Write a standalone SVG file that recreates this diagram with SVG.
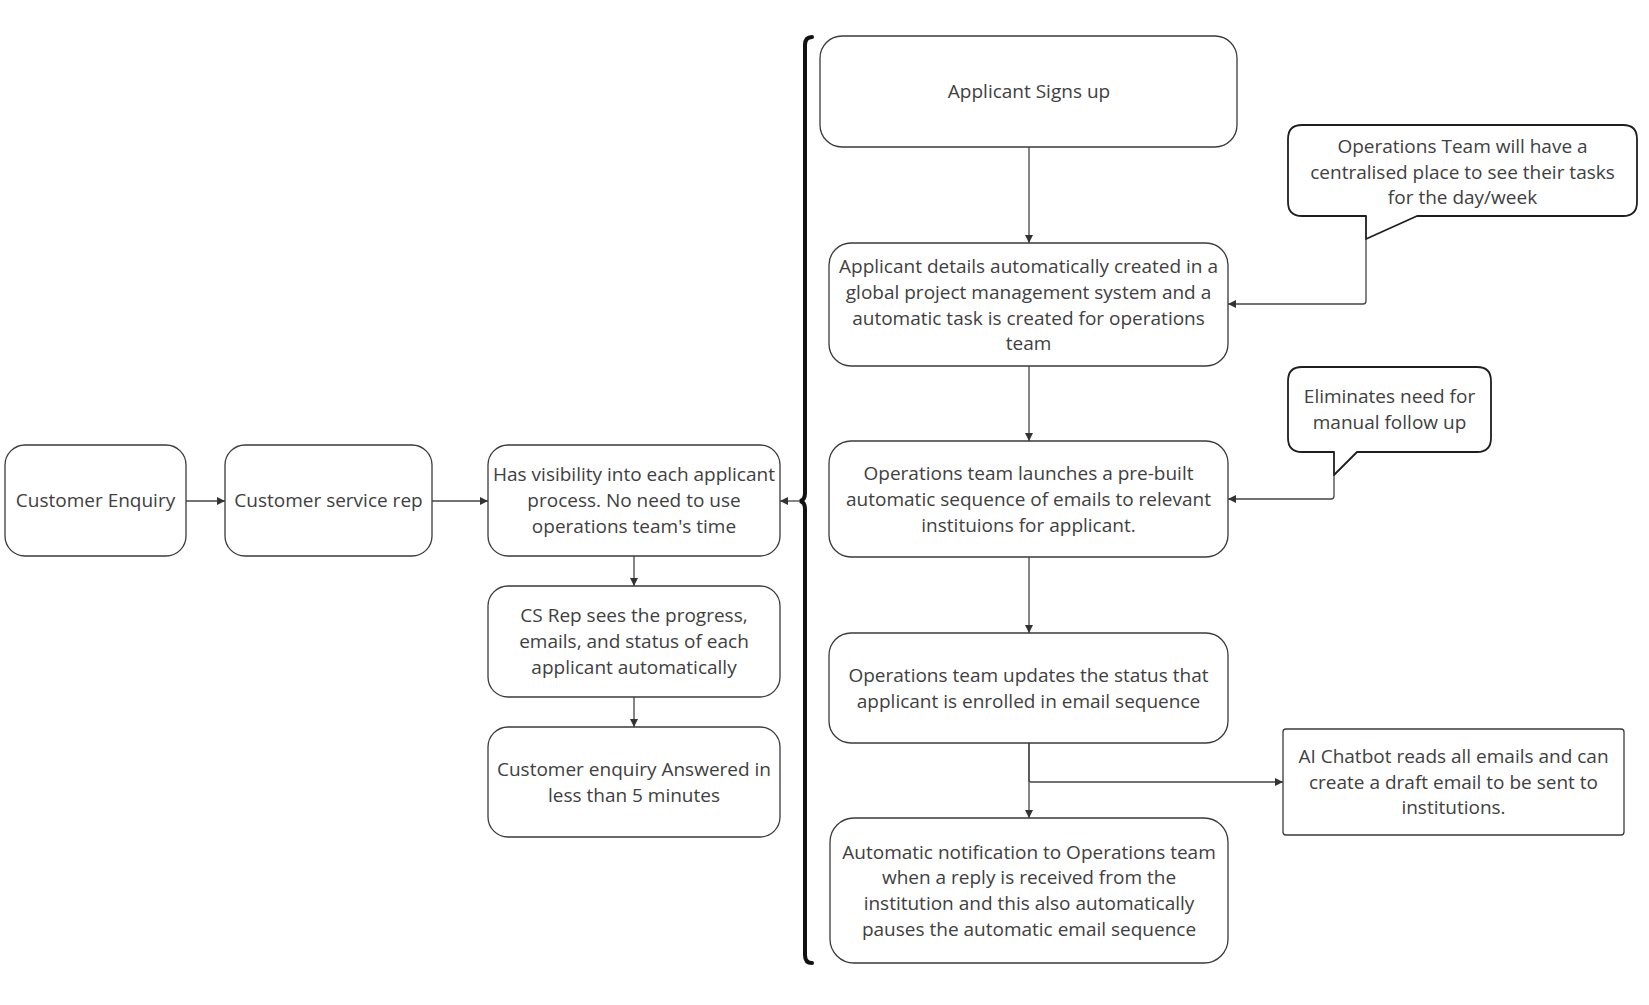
<svg xmlns="http://www.w3.org/2000/svg" width="1649" height="1005" viewBox="0 0 1649 1005">
<style>
.box{fill:#fff;stroke:#3a3a3a;stroke-width:1.3}
.call{fill:#fff;stroke:#1e1e1e;stroke-width:1.8;stroke-linejoin:round}
.t{font-family:"Open Sans","Noto Sans",sans-serif;font-size:19px;fill:#404040;text-anchor:middle}
.c{fill:none;stroke:#444;stroke-width:1.3;marker-end:url(#ah)}
.brace{fill:none;stroke:#111;stroke-width:4;stroke-linecap:round}
</style>
<defs>
<marker id="ah" viewBox="0 0 10 10" refX="10" refY="5" markerWidth="8" markerHeight="8" markerUnits="userSpaceOnUse" orient="auto">
<path d="M0,0 L10,5 L0,10 z" fill="#333"/>
</marker>
</defs>
<rect width="1649" height="1005" fill="#fff"/>

<g id="connectors">
<path class="c" d="M186,501 H225"/>
<path class="c" d="M432,501 H488"/>
<path class="c" d="M634,556 V586"/>
<path class="c" d="M634,697 V727"/>
<path class="c" d="M801,501 H780"/>
<path class="c" d="M1029,147 V243"/>
<path class="c" d="M1029,366 V441"/>
<path class="c" d="M1029,557 V633"/>
<path class="c" d="M1029,743 V818"/>
<path class="c" d="M1029,743 V780 Q1029,782 1031,782 H1283"/>
<path class="c" d="M1366,239 V301 Q1366,304 1363,304 H1228"/>
<path class="c" d="M1334,475 V496 Q1334,499 1331,499 H1228"/>
</g>

<g id="brace">
<path class="brace" d="M812,37 Q805,37 805,45 V493 Q805,500 800,501 Q805,502 805,509 V955 Q805,963 812,963"/>
</g>

<g id="customer-enquiry">
<rect class="box" x="5" y="445" width="181" height="111" rx="20"/>
<text class="t" x="95.5" y="507">Customer Enquiry</text>
</g>
<g id="customer-service-rep">
<rect class="box" x="225" y="445" width="207" height="111" rx="20"/>
<text class="t" x="328.5" y="507">Customer service rep</text>
</g>
<g id="has-visibility">
<rect class="box" x="488" y="445" width="292" height="111" rx="20"/>
<text class="t" x="634" y="481">Has visibility into each applicant</text>
<text class="t" x="634" y="507">process. No need to use</text>
<text class="t" x="634" y="533">operations team's time</text>
</g>
<g id="cs-rep-sees">
<rect class="box" x="488" y="586" width="292" height="111" rx="20"/>
<text class="t" x="634" y="622">CS Rep sees the progress,</text>
<text class="t" x="634" y="648">emails, and status of each</text>
<text class="t" x="634" y="674">applicant automatically</text>
</g>
<g id="enquiry-answered">
<rect class="box" x="488" y="727" width="292" height="110" rx="20"/>
<text class="t" x="634" y="776">Customer enquiry Answered in</text>
<text class="t" x="634" y="802">less than 5 minutes</text>
</g>

<g id="applicant-signs-up">
<rect class="box" x="820" y="36" width="417" height="111" rx="22"/>
<text class="t" x="1029" y="98">Applicant Signs up</text>
</g>
<g id="applicant-details">
<rect class="box" x="829" y="243" width="399" height="123" rx="22"/>
<text class="t" x="1028.5" y="273">Applicant details automatically created in a</text>
<text class="t" x="1028.5" y="299">global project management system and a</text>
<text class="t" x="1028.5" y="324.5">automatic task is created for operations</text>
<text class="t" x="1028.5" y="350">team</text>
</g>
<g id="ops-launches">
<rect class="box" x="829" y="441" width="399" height="116" rx="22"/>
<text class="t" x="1028.5" y="480">Operations team launches a pre-built</text>
<text class="t" x="1028.5" y="506">automatic sequence of emails to relevant</text>
<text class="t" x="1028.5" y="532">instituions for applicant.</text>
</g>
<g id="ops-updates">
<rect class="box" x="829" y="633" width="399" height="110" rx="22"/>
<text class="t" x="1028.5" y="682">Operations team updates the status that</text>
<text class="t" x="1028.5" y="708">applicant is enrolled in email sequence</text>
</g>
<g id="auto-notification">
<rect class="box" x="830" y="818" width="398" height="145" rx="24"/>
<text class="t" x="1029" y="859">Automatic notification to Operations team</text>
<text class="t" x="1029" y="884">when a reply is received from the</text>
<text class="t" x="1029" y="910">institution and this also automatically</text>
<text class="t" x="1029" y="936">pauses the automatic email sequence</text>
</g>
<g id="ai-chatbot">
<rect class="box" x="1283" y="729" width="341" height="106" rx="3"/>
<text class="t" x="1453.5" y="763">AI Chatbot reads all emails and can</text>
<text class="t" x="1453.5" y="789">create a draft email to be sent to</text>
<text class="t" x="1453.5" y="814">institutions.</text>
</g>

<g id="callout-ops-team">
<path class="call" d="M1302,125 H1623 Q1637,125 1637,139 V202 Q1637,216 1623,216 H1417 L1366,239 V216 H1302 Q1288,216 1288,202 V139 Q1288,125 1302,125 Z"/>
<text class="t" x="1462.5" y="153">Operations Team will have a</text>
<text class="t" x="1462.5" y="179">centralised place to see their tasks</text>
<text class="t" x="1462.5" y="204">for the day/week</text>
</g>
<g id="callout-eliminates">
<path class="call" d="M1302,367 H1477 Q1491,367 1491,381 V438 Q1491,452 1477,452 H1357 L1334,475 V452 H1302 Q1288,452 1288,438 V381 Q1288,367 1302,367 Z"/>
<text class="t" x="1389.5" y="403">Eliminates need for</text>
<text class="t" x="1389.5" y="429">manual follow up</text>
</g>
</svg>
